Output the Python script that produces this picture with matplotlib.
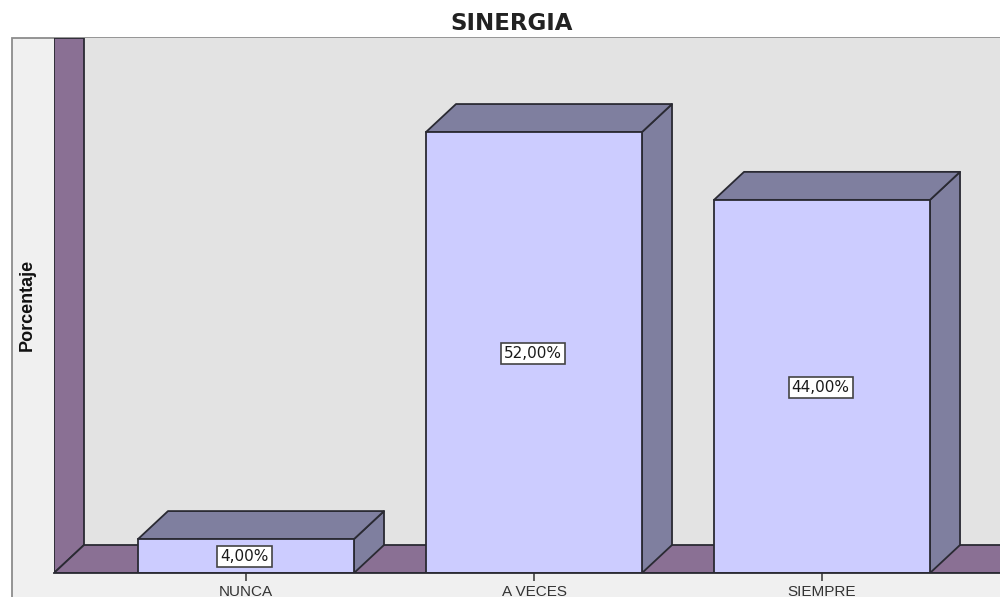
import matplotlib
matplotlib.use("Agg")
from matplotlib import pyplot as plt
from matplotlib.patches import Polygon, Rectangle

categorias = ["NUNCA", "A VECES", "SIEMPRE"]
porcentajes = [4.0, 52.0, 44.0]
etiquetas = ["4,00%", "52,00%", "44,00%"]

W, H = 1000, 597
bar_w = 0.75
dx = 30 / 288  # profundidad 3D en unidades de x
dy = 28 / 8.48  # profundidad 3D en unidades de y
xmin, xmax = -2 / 3, 2.618
ymin, ymax = 0, 63.09

c_face = "#ccccff"
c_side = "#7f7f9f"
c_wall = "#8a7094"
c_back = "#e3e3e3"
c_panel = "#f0f0f0"
c_line = "#2a2a33"

plt.rcParams["font.family"] = ["Liberation Sans", "DejaVu Sans"]

fig = plt.figure(figsize=(W / 100, H / 100), dpi=100)
fig.add_artist(Rectangle((12 / W, -0.01), 1, 1 - 38 / H + 0.01, transform=fig.transFigure,
                         fc=c_panel, ec="#8c8c8c", lw=1.3, zorder=-1))
ax = fig.add_axes([54 / W, 1 - 573 / H, 946 / W, 535 / H])
ax.set_facecolor(c_back)
ax.set_xlim(xmin, xmax)
ax.set_ylim(ymin, ymax)
for s in ax.spines.values():
    s.set_visible(False)

# pared izquierda y piso
ax.add_patch(Polygon([(xmin, 0), (xmin + dx, dy), (xmin + dx, ymax), (xmin, ymax)],
                     fc=c_wall, ec=c_line, lw=1.3, zorder=1))
ax.add_patch(Polygon([(xmin, 0), (xmin + dx, dy), (xmax + 1, dy), (xmax + 1, 0)],
                     fc=c_wall, ec=c_line, lw=1.3, zorder=1))

for i, v in enumerate(porcentajes):
    x0 = i - bar_w / 2
    x1 = i + bar_w / 2
    ax.add_patch(Polygon([(x1, 0), (x1 + dx, dy), (x1 + dx, v + dy), (x1, v)],
                         fc=c_side, ec=c_line, lw=1.3, joinstyle="round", zorder=2))
    ax.add_patch(Polygon([(x0, v), (x0 + dx, v + dy), (x1 + dx, v + dy), (x1, v)],
                         fc=c_side, ec=c_line, lw=1.3, joinstyle="round", zorder=2))
    ax.bar(i, v, width=bar_w, color=c_face, edgecolor=c_line, linewidth=1.3, zorder=3)
    ax.text(i - 0.005, v / 2 - 0.1, etiquetas[i], ha="center", va="center", fontsize=11, family=["DejaVu Sans"],
            color="#1a1a1a", zorder=5,
            bbox=dict(boxstyle="square,pad=0.2", fc="white", ec="#444444", lw=1.2))

ax.set_xticks(range(len(categorias)))
ax.set_xticklabels(categorias, fontsize=11, color="#333333")
ax.set_yticks([])
ax.tick_params(axis="x", length=6, width=1.1, color="#333333", pad=2.5)
ax.axhline(0, color=c_line, lw=1.3, zorder=4, clip_on=False)

ax.set_ylabel("Porcentaje", fontsize=13, fontweight="bold", color="#111111")
ax.yaxis.set_label_coords(-18 / 946, 268 / 535)

fig.text(512 / W, 1 - 24 / H, "SINERGIA", ha="center", va="center", fontsize=16.5,
         family=["DejaVu Sans"], fontweight="bold", color="#222222")

fig.savefig("out.png", dpi=100)
